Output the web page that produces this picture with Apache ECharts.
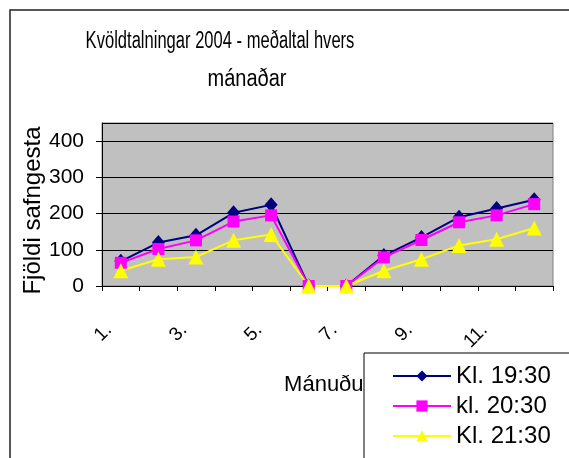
<!DOCTYPE html>
<html>
<head>
<meta charset="utf-8">
<script src="https://cdn.jsdelivr.net/npm/echarts@6/dist/echarts.min.js"></script>
<style>
  html, body { margin: 0; padding: 0; background: #fff; }
  #chart { width: 569px; height: 458px; }
</style>
</head>
<body>
<div id="chart"></div>
<script>
const months = ['1.', '2.', '3.', '4.', '5.', '6.', '7.', '8.', '9.', '10.', '11.', '12.'];
const kl1930 = [68, 120, 140, 202, 224, 0, 0, 84, 134, 190, 214, 238];
const kl2030 = [64, 102, 126, 178, 195, 0, 0, 79, 127, 176, 195, 226];
const kl2130 = [42, 74, 80, 126, 142, 0, 0, 42, 74, 112, 129, 160];
const yTicks = [0, 100, 200, 300, 400];
const titleLines = ['Kvöldtalningar 2004 - meðaltal hvers', 'mánaðar'];

const sans = '"Liberation Sans", Arial, sans-serif';

let chart;

const initChart = () => {
  chart = echarts.init(document.getElementById('chart'), null, { renderer: 'canvas' });
  chart.setOption({
    animation: false,
    backgroundColor: '#fff',
    graphic: [{
      // ramminn utan um allt grafið
      type: 'rect',
      shape: { x: 10, y: 10, width: 600, height: 500 },
      style: { fill: 'none', stroke: '#222', lineWidth: 1.5 },
      z: -1
    }, {
      type: 'text',
      x: 220, y: 42, scaleX: 0.72,
      style: { text: titleLines[0], font: '23px ' + sans, fill: '#000', align: 'center', verticalAlign: 'middle' }
    }, {
      type: 'text',
      x: 247, y: 80, scaleX: 0.87,
      style: { text: titleLines[1], font: '23px ' + sans, fill: '#000', align: 'center', verticalAlign: 'middle' }
    }, {
      // kassinn um skýringarnar, nær út fyrir myndina
      type: 'rect',
      shape: { x: 364, y: 353, width: 300, height: 200 },
      style: { fill: '#fff', stroke: '#000', lineWidth: 1 },
      z: 3
    }],
    grid: {
      left: 102, right: 16, top: 123, bottom: 172,
      show: true, backgroundColor: '#c0c0c0', borderColor: '#808080', borderWidth: 1
    },
    legend: {
      orient: 'vertical',
      left: 364, top: 353,
      padding: [11, 10, 0, 28],
      itemGap: 6,
      itemWidth: 58, itemHeight: 14,
      z: 5,
      textStyle: { fontFamily: sans, fontSize: 24, color: '#000' },
      data: ['Kl. 19:30', 'kl. 20:30', 'Kl. 21:30']
    },
    xAxis: {
      type: 'category',
      data: months,
      boundaryGap: true,
      name: 'Mánuður',
      nameLocation: 'middle',
      nameGap: 88,
      nameMoveOverlap: false,
      nameTextStyle: { fontFamily: sans, fontSize: 22, color: '#000' },
      axisLine: { lineStyle: { color: '#000', width: 1 } },
      axisTick: { show: true, interval: 0, length: 5, lineStyle: { color: '#000' } },
      axisLabel: {
        interval: 1, rotate: 45, margin: 29, padding: [0, 17, 0, 0],
        fontFamily: sans, fontSize: 19, color: '#000'
      },
      splitLine: { show: false }
    },
    yAxis: {
      type: 'value',
      min: 0, max: 450, interval: 100,
      name: 'Fjöldi safngesta',
      nameLocation: 'middle',
      nameGap: 57,
      nameMoveOverlap: false,
      nameTextStyle: { fontFamily: sans, fontSize: 24, color: '#000', padding: [0, 12, 0, 0] },
      axisLine: { show: true, lineStyle: { color: '#000', width: 1 } },
      axisTick: { show: true, length: 6, lineStyle: { color: '#000' } },
      axisLabel: {
        margin: 18, fontFamily: sans, fontSize: 21, color: '#000', showMaxLabel: false,
        formatter: (v) => yTicks.includes(v) ? String(v) : ''
      },
      splitLine: { show: true, lineStyle: { color: '#000', width: 1 } }
    },
    series: [{
      name: 'Kl. 19:30', type: 'line', data: kl1930,
      symbol: 'diamond', symbolSize: [13, 15],
      lineStyle: { color: '#000080', width: 2 },
      itemStyle: { color: '#000080' }
    }, {
      name: 'kl. 20:30', type: 'line', data: kl2030,
      symbol: 'rect', symbolSize: 12,
      lineStyle: { color: '#ff00ff', width: 2 },
      itemStyle: { color: '#ff00ff' }
    }, {
      name: 'Kl. 21:30', type: 'line', data: kl2130,
      symbol: 'triangle', symbolSize: 15,
      lineStyle: { color: '#ffff00', width: 2 },
      itemStyle: { color: '#ffff00' }
    }]
  });
};

window.addEventListener('load', () => {
  initChart();
});
</script>
</body>
</html>
